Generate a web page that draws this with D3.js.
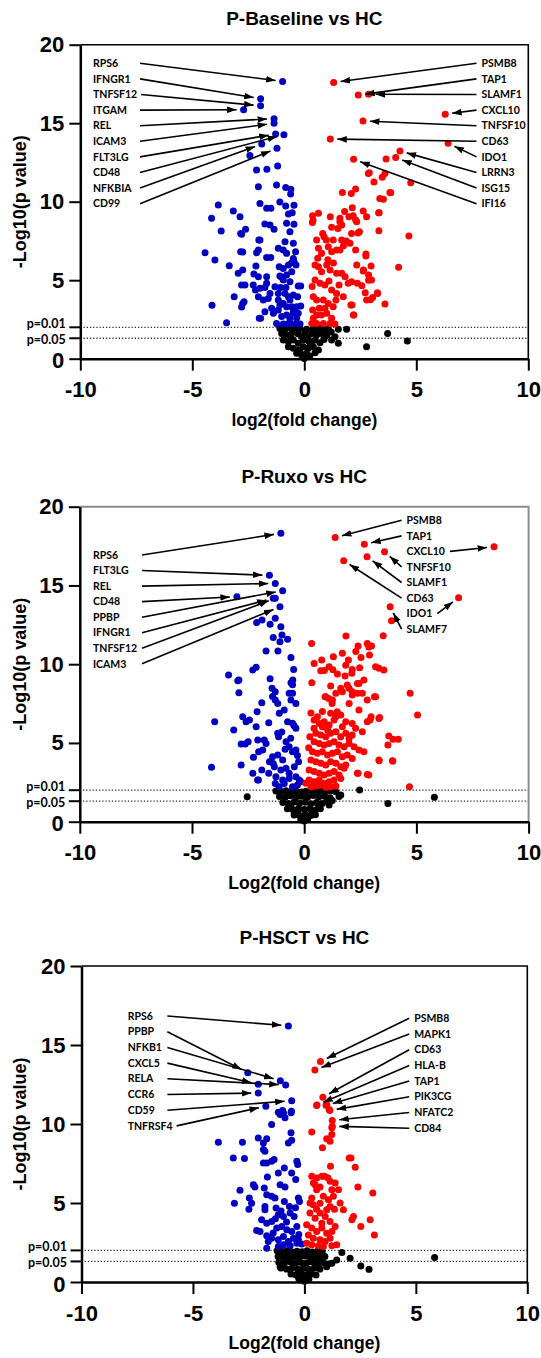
<!DOCTYPE html>
<html>
<head>
<meta charset="utf-8">
<script src="https://cdn.jsdelivr.net/npm/d3@7"></script>
<style>
  body { margin: 0; background: #fff; }
  svg { display: block; }
</style>
</head>
<body>
<script>
// ---------- Panel 1: P-Baseline vs HC (log2 FC, -log10 p) ----------
const P1_DOWN_GENES = [
  ["RPS6", -0.97, 17.66], ["IFNGR1", -1.95, 16.56], ["TNFSF12", -1.95, 16.11], ["ITGAM", -2.71, 15.86],
  ["REL", -1.35, 15.29], ["ICAM3", -1.35, 14.99], ["FLT3LG", -1.28, 14.31], ["CD48", -0.91, 14.27],
  ["NFKBIA", -1.90, 13.67], ["CD99", -1.22, 13.40]
];
const P1_UP_GENES = [
  ["PSMB8", 1.31, 17.60], ["TAP1", 2.41, 16.79], ["SLAMF1", 2.87, 16.84], ["CXCL10", 6.29, 15.57],
  ["TNFSF10", 2.62, 15.14], ["CD63", 1.16, 13.99], ["IDO1", 6.42, 13.72], ["LRRN3", 4.27, 13.23],
  ["ISG15", 4.08, 12.82], ["IFI16", 2.20, 12.70]
];
const P1_DOWN = [
  [-2.43,12.95],[-2.13,12.02],[-1.67,12.06],[-1.19,12.27],[-2.05,10.96],[-1.24,11.06],[-0.83,10.91],[-0.60,10.79],
  [-0.61,10.49],[-1.98,9.89],[-1.68,9.58],[-1.49,9.58],[-1.09,9.98],[-0.83,9.72],[-0.46,9.77],[-3.84,9.79],
  [-3.17,9.41],[-2.87,9.04],[-4.14,8.94],[-0.71,9.21],[-0.54,9.30],
  [-3.71,8.13],[-2.80,7.92],[-2.62,8.24],[-1.76,8.58],[-1.53,8.51],[-1.35,8.24],[-0.79,8.62],[-0.46,8.56],
  [-0.64,8.09],[-4.43,6.75],[-3.99,6.28],[-3.35,5.92],[-2.95,5.44],[-2.75,5.65],[-2.84,6.82],[-2.75,6.79],
  [-1.98,7.56],[-2.05,6.92],[-2.13,6.75],[-1.68,6.45],[-1.50,6.45],[-1.16,7.03],[-0.94,6.92],[-0.86,7.45],
  [-0.49,7.35],[-0.39,6.82],[-0.79,6.71],[-0.46,6.18],[-0.56,6.11],[-1.12,5.86],[-2.16,5.90],[-2.25,5.39],
  [-2.05,5.22],[-1.68,5.22],[-1.09,5.27],[-0.56,5.54],[-0.94,5.01],[-0.64,4.90],[-2.80,4.69],[-2.65,4.69],
  [-2.28,4.69],[-1.98,4.48],[-1.76,4.54],[-1.31,4.59],[-1.06,4.54],[-0.82,4.54],[-0.27,4.63],[-0.16,4.63],
  [-3.13,3.95],[-2.75,3.52],[-2.69,3.63],[-2.05,3.95],[-1.83,3.74],[-1.61,3.84],[-1.46,3.21],[-1.16,3.74],
  [-0.94,3.52],[-0.64,3.74],[-0.34,3.31],[-0.16,3.35],[-4.12,3.40],[-3.47,2.29],[-2.01,2.57],[-1.76,2.99],
  [-1.38,2.89],[-1.16,3.10],[-1.01,2.68],[-0.79,2.78],[-0.64,2.57],[-0.49,2.89],[-0.34,2.57],[-0.27,2.89],
  [-1.24,2.25],[-0.94,2.21],[-0.71,2.25],[-0.56,2.21],[-0.34,2.25],[-0.19,2.21],[-1.01,5.18],[-0.79,5.33],
  [-0.94,5.75],[-0.71,5.97],[-0.49,6.39],[-0.37,5.97],[-0.86,4.16],[-0.71,3.95],[-0.49,4.06],[-0.30,3.95],
  [-1.16,4.16],[-1.53,4.16],[-1.68,4.80],[-1.09,3.42],[-0.79,3.31],[-0.56,3.31],[-0.49,3.10],[-2.03,7.56],
  [-2.18,4.37],[-1.95,2.57],[-2.80,3.30],[-2.84,7.98]
];
const P1_UP = [
  [3.65,12.72],[2.86,11.80],[2.90,11.85],[3.48,11.55],[3.11,11.25],[3.60,11.80],[3.82,10.59],[1.70,10.59],
  [2.10,10.53],[2.29,10.81],[3.53,10.15],[3.32,9.30],[2.14,9.62],[0.37,9.11],[0.63,9.26],[1.16,9.04],
  [1.59,8.94],[1.99,9.04],[2.29,8.83],[2.78,9.04],[4.75,11.21],[3.86,10.57],
  [4.67,7.81],[4.21,5.82],[3.60,3.48],[3.26,4.20],[3.05,3.90],[2.95,3.75],[2.72,4.20],[2.98,5.90],
  [2.75,6.54],[2.87,5.33],[2.64,5.65],[2.87,5.00],[2.57,4.65],[2.37,4.80],[2.13,3.42],[2.21,2.78],
  [3.34,9.30],[3.37,10.20],
  [0.36,8.68],[1.22,8.37],[1.59,8.73],[1.67,8.51],[2.11,7.98],[2.34,8.73],[2.46,8.09],[3.33,8.15],
  [0.82,7.98],[0.88,7.77],[0.98,7.56],[0.55,7.56],[1.29,7.56],[1.67,7.56],[2.04,7.35],[2.29,6.92],
  [2.75,6.67],[2.63,5.58],[2.34,5.97],[2.11,4.90],[3.00,5.01],[3.27,4.16],[2.78,3.74],[2.08,3.42],
  [2.19,2.78],
  [0.63,7.03],[0.77,6.71],[1.07,7.13],[1.22,6.82],[1.44,6.92],[1.59,6.92],[0.48,5.97],[0.63,5.86],
  [0.77,5.54],[1.00,5.97],[1.15,5.65],[1.44,5.44],[1.67,5.44],[1.82,5.22],[1.96,4.80],[0.48,5.01],
  [0.70,4.80],[0.92,4.69],[1.22,4.37],[1.44,4.16],[1.74,3.95],[0.40,3.95],[0.55,3.74],[0.85,3.74],
  [1.07,3.52],[1.29,3.31],[0.37,3.10],[0.55,2.78],[0.77,2.78],[1.00,2.89],[1.22,2.57],[1.41,3.74],
  [0.33,2.25],[0.55,2.25],[0.85,2.25],[1.15,2.25],[1.37,2.21],[0.40,2.57],[0.67,3.21],[0.92,3.21],
  [1.80,9.38],[2.18,9.10],[2.63,9.40],[1.87,7.50],[2.40,8.00],[1.50,8.30],[1.75,7.20],[0.39,8.80],
  [1.05,6.30],[1.30,6.10],[0.60,6.40],[1.55,4.70],[1.10,4.95],[0.35,4.60]
];
const P1_NS = [
  [-1.09,1.93],[-0.86,1.93],[-0.64,1.97],[-0.42,1.93],[-0.19,1.93],[0.10,1.87],[0.40,1.93],[0.63,1.97],
  [0.85,1.93],[1.07,1.93],[-1.01,1.61],[-0.79,1.51],[-0.57,1.61],[-0.27,1.57],[0.03,1.72],[0.33,1.61],
  [0.55,1.51],[0.77,1.61],[1.00,1.51],[-0.94,1.19],[-0.71,1.08],[-0.49,1.19],[-0.27,0.98],[-0.04,1.19],
  [0.22,1.08],[0.48,1.19],[0.70,1.02],[0.88,1.23],[-0.71,0.76],[-0.49,0.66],[-0.27,0.55],[-0.04,0.76],
  [0.18,0.66],[0.40,0.76],[0.63,0.55],[-0.34,0.34],[-0.12,0.23],[0.00,0.02],[0.10,0.34],[0.25,0.17],
  [0.48,0.38],[-0.20,0.45],[0.30,0.90],[-0.60,1.40],[0.60,1.75],[-0.90,1.75],[1.20,1.70],[0.90,1.80],
  [-0.10,1.40],[0.15,1.35],
  [1.52,1.87],[1.89,1.87],[3.72,1.61],[2.78,0.76],[1.37,1.40],[1.52,0.98],[1.22,1.19],[4.60,1.13]
];

// ---------- Panel 2: P-Ruxo vs HC ----------
const P2_DOWN_GENES = [
  ["RPS6", -1.04, 18.31], ["FLT3LG", -1.55, 15.64], ["REL", -1.29, 15.13], ["CD48", -3.00, 14.29],
  ["PPBP", -0.96, 14.67], ["IFNGR1", -1.38, 14.18], ["TNFSF12", -1.29, 14.18], ["ICAM3", -1.08, 13.65]
];
const P2_UP_GENES = [
  ["PSMB8", 1.38, 18.05], ["TAP1", 2.68, 17.61], ["CXCL10", 8.46, 17.46], ["TNFSF10", 3.58, 17.14],
  ["SLAMF1", 2.80, 16.83], ["CD63", 1.76, 16.57], ["IDO1", 6.88, 14.22], ["SLAMF7", 3.83, 13.65]
];
const P2_DOWN = [
  [-2.12,12.64],[-1.88,12.81],[-1.52,12.53],[-1.29,12.91],[-1.04,12.38],[-1.38,11.70],[-0.99,11.85],[-1.08,11.43],
  [-0.74,11.58],[-1.70,10.84],[-1.17,10.84],[-0.59,10.43],[-0.47,9.67],[-3.37,9.31],[-2.91,9.00],[-2.96,8.95],
  [-2.29,9.63],[-2.14,9.80],[-1.52,9.08],[-1.43,8.47],[-1.29,8.25],[-0.59,8.83],[-0.52,8.70],[-0.52,8.15],
  [-2.91,8.19],[-0.51,9.00],
  [-3.99,6.35],[-4.13,3.45],[-3.14,5.82],[-2.81,4.93],[-2.81,3.60],[-2.50,5.08],[-2.74,6.67],[-2.59,6.35],
  [-2.44,6.46],[-2.14,6.03],[-2.10,6.98],[-1.89,7.56],[-1.58,6.29],[-2.07,5.19],[-1.78,5.19],[-1.70,4.97],
  [-2.03,4.44],[-1.85,4.55],[-2.26,4.09],[-2.29,3.07],[-2.04,2.65],[-1.89,3.28],[-1.58,3.07],[-1.41,7.95],
  [-1.29,7.72],[-1.18,7.51],[-1.11,6.88],[-0.89,7.09],[-0.59,7.72],[-0.37,7.51],[-0.67,8.15],[-0.74,6.35],
  [-0.52,6.25],[-0.37,5.93],[-1.18,5.61],[-1.14,5.40],[-0.81,5.08],[-0.67,4.76],[-0.52,4.44],[-0.37,4.55],
  [-0.25,3.81],[-1.41,4.12],[-1.18,4.23],[-0.96,3.92],[-1.33,3.49],[-1.04,3.28],[-0.81,3.39],[-0.67,3.07],
  [-0.44,3.49],[-1.26,2.86],[-0.96,2.65],[-0.67,2.75],[-0.37,2.86],[-0.22,2.65],[-1.29,2.43],[-1.11,2.22],
  [-0.89,2.43],[-0.52,2.22],[-0.30,2.33],[-0.15,2.54],[-1.38,3.70],[-1.55,3.81],[-2.63,4.93],[-2.08,2.65],
  [-0.45,6.10],[-0.60,5.30],[-0.30,4.20],[-0.85,4.60],[-1.00,5.70]
];
const P2_UP = [
  [3.89,12.76],[3.52,11.81],[1.86,11.79],[0.33,11.32],[2.40,11.15],[2.81,11.32],[3.00,11.15],[2.91,10.58],
  [2.53,10.43],[1.70,10.69],[1.30,10.48],[0.78,10.27],[0.44,10.05],[1.11,9.84],[0.74,9.59],[1.85,9.93],
  [2.14,9.67],[2.47,9.78],[1.82,9.25],[1.48,9.38],[1.92,8.68],[2.66,9.00],[2.37,8.78],[3.18,9.84],
  [3.33,9.74],[3.55,9.63],[0.34,8.83],[1.18,8.61],[1.63,8.47],[2.14,8.25],[2.59,8.15],[3.18,7.94],
  [0.96,7.94],[1.41,8.15],
  [4.72,8.15],[5.05,6.77],[3.77,5.44],[3.96,5.23],[4.19,5.23],[3.73,4.87],[3.34,3.87],[3.93,3.87],
  [4.69,2.22],[2.81,3.00],[2.40,3.07],[3.36,6.62],[2.93,6.45],[3.13,7.94],
  [2.00,8.47],[2.44,8.78],[1.26,7.72],[1.70,8.25],[2.14,8.04],[2.37,8.15],[2.00,7.50],[2.44,7.10],
  [2.81,7.72],[2.98,6.67],[3.33,6.56],[2.81,6.35],[3.33,3.92],[3.95,3.85],[2.88,2.97],[2.37,3.07],
  [1.63,2.75],
  [0.44,6.46],[0.67,6.24],[0.89,6.35],[1.11,6.14],[1.33,6.46],[0.81,6.03],[1.04,5.82],[0.52,5.61],
  [0.74,5.50],[0.96,5.40],[1.18,5.61],[1.41,5.71],[1.63,5.40],[1.85,5.61],[2.00,5.29],[2.14,5.50],
  [0.44,5.08],[0.67,4.97],[0.89,4.87],[1.11,4.97],[1.33,5.08],[1.55,4.87],[1.78,4.76],[2.00,4.97],
  [2.22,4.76],[2.44,4.55],[2.66,4.44],[0.37,4.44],[0.59,4.34],[0.81,4.44],[1.04,4.23],[1.26,4.34],
  [1.48,4.44],[1.70,4.13],[1.92,4.23],[2.14,4.02],[0.30,3.92],[0.52,3.81],[0.74,3.71],[0.96,3.60],
  [1.18,3.81],[1.41,3.71],[1.63,3.49],[1.85,3.60],[0.22,3.28],[0.44,3.18],[0.67,3.07],[0.89,2.97],
  [1.11,3.07],[1.33,3.18],[1.55,2.97],[1.78,3.39],[0.22,2.65],[0.44,2.54],[0.67,2.65],[0.89,2.44],
  [1.11,2.54],[1.33,2.65],[0.07,2.44],[0.30,2.22],[0.52,2.27],[0.74,2.33],[0.96,2.18],[1.18,2.22],
  [1.41,2.27],[0.81,6.99],[1.18,6.88],[1.41,6.67],[1.63,6.77],[1.85,6.35],[1.70,6.03],[0.59,6.67],
  [0.44,5.93],[2.14,6.24],[2.29,5.93],[2.59,5.71],
  [0.93,7.94],[1.09,7.83],[1.24,7.51],[1.47,6.98],[0.90,9.60],[1.28,9.65],[2.12,9.42],[2.30,10.80],
  [2.88,11.10],[1.97,10.27],[0.30,6.90],[0.25,5.40],[0.20,4.70]
];
const P2_NS = [
  [-1.26,1.95],[-1.04,1.92],[-0.81,1.97],[-0.59,1.90],[-0.37,1.96],[-0.12,1.88],[0.07,1.94],[0.30,1.97],
  [0.52,1.90],[0.74,1.95],[0.96,1.92],[1.18,1.96],[1.41,1.90],[-1.10,1.60],[-0.85,1.55],[-0.62,1.65],
  [-0.35,1.58],[-0.10,1.62],[0.15,1.55],[0.40,1.66],[0.65,1.58],[0.90,1.62],[1.15,1.52],[-0.95,1.22],
  [-0.70,1.15],[-0.45,1.25],[-0.20,1.18],[0.05,1.24],[0.30,1.14],[0.55,1.22],[0.80,1.16],[1.02,1.26],
  [-0.75,0.82],[-0.50,0.76],[-0.25,0.85],[0.00,0.78],[0.25,0.84],[0.50,0.75],[0.72,0.82],[-0.45,0.42],
  [-0.20,0.38],[0.05,0.45],[0.30,0.40],[0.50,0.44],[-0.15,0.12],[0.00,0.05],[0.15,0.14],[-0.30,0.60],
  [0.35,0.60],[-0.60,1.00],[0.65,1.00],
  [-2.54,1.59],[2.47,2.01],[3.73,1.16],[5.80,1.55],[1.11,1.06],[1.63,1.69],[1.55,1.60],[1.25,1.35]
];

// ---------- Panel 3: P-HSCT vs HC ----------
const P3_DOWN_GENES = [
  ["RPS6", -0.72, 16.21], ["PPBP", -2.54, 13.25], ["NFKB1", -1.08, 12.74], ["CXCL5", -2.07, 12.51],
  ["RELA", -0.84, 12.47], ["CCR6", -2.07, 11.96], ["CD59", -0.57, 11.47], ["TNFRSF4", -1.73, 11.13]
];
const P3_UP_GENES = [
  ["PSMB8", 0.72, 13.95], ["MAPK1", 0.47, 13.42], ["CD63", 0.83, 11.70], ["HLA-B", 0.56, 11.20],
  ["TAP1", 0.97, 11.18], ["PIK3CG", 1.14, 10.85], ["NFATC2", 1.25, 10.22], ["CD84", 1.25, 9.86]
];
const P3_DOWN = [
  [-1.17,10.75],[-0.98,10.85],[-0.58,10.80],[-1.09,10.60],[-0.94,10.71],[-0.87,10.39],[-0.60,10.71],[-1.47,9.97],
  [-0.60,9.44],[-0.72,8.80],[-0.57,8.97],[-3.86,8.85],[-2.78,8.85],[-2.07,9.12],[-1.84,8.80],[-1.69,9.06],
  [-1.77,8.28],[-1.84,8.38],[-3.19,7.85],[-2.69,7.81],[-1.84,7.53],[-1.69,7.53],[-1.47,7.64],[-1.36,7.75],
  [-0.34,7.64],[-0.30,7.43],[-0.90,7.22],[-1.17,6.90],[-0.57,6.90],[-0.39,6.48],[-1.66,6.65],[-2.29,6.16],
  [-2.22,6.01],[-2.89,5.80],[-1.80,5.95],[-1.09,6.16],[-0.87,6.01],[-3.14,4.99],[-2.47,5.31],[-2.37,4.99],
  [-2.49,4.61],[-1.69,5.52],[-1.47,5.42],[-1.32,5.31],[-1.77,4.78],[-1.77,4.57],[-1.27,4.68],[-0.90,5.10],
  [-0.67,4.78],[-0.27,5.31],[-0.22,5.10],[-1.17,4.25],[-0.94,4.15],[-0.64,4.36],[-0.46,4.15],[-1.92,3.94],
  [-1.69,3.72],[-1.47,3.83],[-2.14,3.26],[-1.99,3.20],[-1.24,3.41],[-1.02,3.51],[-0.79,3.30],[-0.57,3.20],
  [-0.34,3.51],[-1.69,2.92],[-1.47,2.77],[-1.17,2.67],[-0.94,2.88],[-0.72,2.56],[-0.49,2.77],[-0.27,2.67],
  [-1.69,2.14],[-1.17,2.24],[-0.94,2.35],[-0.64,2.29],[-0.34,2.46],[-0.12,2.41],[-1.62,2.56],[-1.30,4.00],
  [-1.05,4.50],[-0.40,4.70],[-0.80,3.80],[-0.25,3.00],[-1.40,3.10]
];
const P3_UP = [
  [1.23,9.33],[1.00,9.06],[0.33,9.50],[1.15,8.91],[0.81,8.49],[2.01,7.85],[2.09,7.85],[2.28,7.26],
  [1.17,7.32],[0.33,6.69],[0.55,6.58],[0.78,6.69],[0.48,6.16],[0.70,6.01],[1.15,6.37],[1.38,6.26],
  [1.53,5.84],[1.23,5.84],[2.40,6.01],[3.07,5.63],[0.33,5.31],[0.40,4.89],[0.85,5.42],[1.08,5.21],
  [1.15,4.78],[1.60,5.00],[1.75,4.57],[2.13,3.94],[2.20,4.15],[2.53,3.51],[2.95,3.94],[3.14,2.98],
  [0.25,4.36],[0.48,4.04],[0.70,4.36],[0.93,4.15],[1.15,3.83],[1.38,3.51],[0.10,3.62],[0.33,3.41],
  [0.55,3.20],[0.78,3.41],[1.00,3.09],[1.23,3.20],[0.18,2.98],[0.40,2.77],[0.70,2.67],[0.93,2.56],
  [1.15,2.77],[0.10,2.46],[0.33,2.35],[0.63,2.29],[0.85,2.24],[1.23,2.29],[1.45,2.35],[0.78,3.72],
  [1.00,4.57],[1.30,5.42],[0.55,5.84],[0.40,6.26],[0.70,4.99],[1.35,4.60],[1.05,6.60],[0.90,6.70],
  [0.25,5.00],[0.55,4.60],[0.55,11.17],[1.00,11.24],[1.11,10.92],[1.23,9.76]
];
const P3_NS = [
  [-1.22,1.98],[-1.00,1.93],[-0.78,1.97],[-0.55,1.90],[-0.33,1.95],[-0.10,1.92],[0.12,1.97],[0.35,1.90],
  [0.58,1.95],[0.80,1.92],[-1.18,1.62],[-0.95,1.58],[-0.72,1.66],[-0.48,1.60],[-0.25,1.55],[0.02,1.64],
  [0.25,1.58],[0.48,1.66],[0.70,1.55],[0.92,1.62],[-1.15,1.25],[-0.90,1.20],[-0.65,1.28],[-0.40,1.18],
  [-0.15,1.24],[0.10,1.20],[0.35,1.26],[0.60,1.18],[0.85,1.22],[-1.05,0.88],[-0.80,0.82],[-0.55,0.90],
  [-0.30,0.80],[-0.05,0.86],[0.20,0.80],[0.45,0.88],[0.70,0.82],[-0.60,0.50],[-0.38,0.45],[-0.15,0.52],
  [0.10,0.46],[0.32,0.50],[0.52,0.44],[-0.25,0.20],[0.00,0.05],[0.20,0.18],[-0.10,0.30],[-0.85,1.45],
  [0.55,1.40],[-0.20,1.75],[0.30,1.78],
  [1.68,1.86],[2.05,1.50],[2.53,1.02],[2.90,0.80],[5.84,1.55],[1.45,1.40],[1.23,1.19],[1.00,0.97],
  [-1.09,0.97],[1.06,1.14]
];

// Axis ticks and significance thresholds
const X_TICKS = [-10, -5, 0, 5, 10];
const Y_TICKS = [0, 5, 10, 15, 20];
const THRESHOLDS = [
  { label: "p=0.01", value: 2 },
  { label: "p=0.05", value: -Math.log10(0.05) }
];

// ---------- Layout ----------
const W = 541, H = 1358;
const BLUE = "#0000c0", RED = "#ff0000", BLACK = "#000000";
const R = 3.5;

const panels = [
  { title: "P-Baseline vs HC", xTitle: "log2(fold change)",
    ns: P1_NS, down: P1_DOWN, up: P1_UP, downGenes: P1_DOWN_GENES, upGenes: P1_UP_GENES,
    xr: [80.3, 528.3], yr: [358.7, 44.7], frame: "#000", titleY: 25,
    leftX: 93, leftCol: 140, leftY0: 63.3, rightX: 481.5, rightY0: 63.3, step: 15.6 },
  { title: "P-Ruxo vs HC", xTitle: "Log2(fold change)",
    ns: P2_NS, down: P2_DOWN, up: P2_UP, downGenes: P2_DOWN_GENES, upGenes: P2_UP_GENES,
    xr: [79.8, 528.6], yr: [821.7, 506.7], frame: "#8c8c8c", titleY: 483.3,
    leftX: 93, leftCol: 142, leftY0: 555, rightX: 406.6, rightY0: 520.3, step: 15.55 },
  { title: "P-HSCT vs HC", xTitle: "Log2(fold change)",
    ns: P3_NS, down: P3_DOWN, up: P3_UP, downGenes: P3_DOWN_GENES, upGenes: P3_UP_GENES,
    xr: [81.5, 527.3], yr: [1282, 966], frame: "#000", titleY: 944,
    leftX: 127.7, leftCol: 167.4, leftY0: 1016, rightX: 414.2, rightY0: 1018.3, step: 15.7 }
];

const AXIS_FONT = "'Liberation Sans', Arial, sans-serif";
const LABEL_FONT = "Lato, 'Open Sans', sans-serif";

const svg = d3.select("body").append("svg")
  .attr("width", W).attr("height", H)
  .attr("viewBox", `0 0 ${W} ${H}`);

svg.append("defs").append("marker")
  .attr("id", "arrowhead")
  .attr("viewBox", "0 0 10 7")
  .attr("refX", 10).attr("refY", 3.5)
  .attr("markerWidth", 9.5).attr("markerHeight", 7)
  .attr("markerUnits", "userSpaceOnUse")
  .attr("orient", "auto")
  .append("path").attr("d", "M0,0 L10,3.5 L0,7 Z").attr("fill", "#000");

panels.forEach(p => drawPanel(p));

function drawPanel(p) {
  const x = d3.scaleLinear().domain([-10, 10]).range(p.xr);
  const y = d3.scaleLinear().domain([0, 20]).range(p.yr);
  const g = svg.append("g");

  // significance guide lines
  g.selectAll("line.thr").data(THRESHOLDS).join("line")
    .attr("x1", p.xr[0]).attr("x2", p.xr[1])
    .attr("y1", d => y(d.value)).attr("y2", d => y(d.value))
    .attr("stroke", "#333").attr("stroke-width", 1.3)
    .attr("stroke-dasharray", "1.3,1.9");

  // frame (top and right)
  g.append("path")
    .attr("d", `M${p.xr[0]},${p.yr[1]} H${p.xr[1]} V${p.yr[0]}`)
    .attr("fill", "none").attr("stroke", p.frame).attr("stroke-width", p.frame === "#000" ? 1.6 : 2);

  // points: not significant, down, up
  const dot = (sel, data, color) => sel.selectAll(null).data(data).join("circle")
    .attr("cx", d => x(d[0])).attr("cy", d => y(d[1])).attr("r", R).attr("fill", color);
  dot(g, p.ns, BLACK);
  dot(g, p.down, BLUE);
  dot(g, p.up, RED);
  dot(g, p.downGenes.map(d => [d[1], d[2]]), BLUE);
  dot(g, p.upGenes.map(d => [d[1], d[2]]), RED);

  // axes
  const yAxis = g.append("g").attr("transform", `translate(${p.xr[0]},0)`)
    .call(d3.axisLeft(y).tickValues(Y_TICKS).tickFormat(d => String(d))
      .tickSize(11).tickSizeOuter(0).tickPadding(5));
  const xAxis = g.append("g").attr("transform", `translate(0,${p.yr[0]})`)
    .call(d3.axisBottom(x).tickValues(X_TICKS).tickFormat(d => String(d))
      .tickSize(12).tickSizeOuter(0).tickPadding(11));
  [yAxis, xAxis].forEach(a => {
    a.select(".domain").attr("stroke", "#000").attr("stroke-width", 2.5);
    a.selectAll(".tick line").attr("stroke", "#000").attr("stroke-width", 2);
    a.selectAll(".tick text").attr("fill", "#000")
      .style("font-family", AXIS_FONT).style("font-weight", "bold").style("font-size", "22px");
  });
  // the zero label sits a touch lower so it clears the p=0.05 label
  yAxis.selectAll(".tick text").filter(d => d === 0).attr("dy", "0.42em");

  // threshold ticks and labels on the y axis
  THRESHOLDS.forEach((t, i) => {
    g.append("line")
      .attr("x1", p.xr[0] - 11).attr("x2", p.xr[0])
      .attr("y1", y(t.value)).attr("y2", y(t.value))
      .attr("stroke", "#000").attr("stroke-width", 2);
    g.append("text")
      .attr("x", p.xr[0] - 14.5)
      .attr("y", y(t.value) + (i === 0 ? -4 : 1.5))
      .attr("dy", "0.35em")
      .attr("text-anchor", "end")
      .style("font-family", LABEL_FONT).style("font-weight", "bold").style("font-size", "12.5px")
      .text(t.label);
  });

  // titles
  g.append("text")
    .attr("x", x(0)).attr("y", p.titleY).attr("text-anchor", "middle")
    .style("font-family", AXIS_FONT).style("font-weight", "bold").style("font-size", "19px")
    .text(p.title);
  g.append("text")
    .attr("x", x(0)).attr("y", p.yr[0] + 67).attr("text-anchor", "middle")
    .style("font-family", AXIS_FONT).style("font-weight", "bold").style("font-size", "17.5px")
    .text(p.xTitle);
  g.append("text")
    .attr("transform", `translate(25.5,${(p.yr[0] + p.yr[1]) / 2}) rotate(-90)`)
    .attr("text-anchor", "middle")
    .style("font-family", AXIS_FONT).style("font-weight", "bold").style("font-size", "18px")
    .text("-Log10(p value)");

  // gene annotations with arrows
  const GAP = 7;
  function arrow(x1, y1, tx, ty) {
    const dx = tx - x1, dy = ty - y1, len = Math.hypot(dx, dy);
    const ex = tx - dx / len * GAP, ey = ty - dy / len * GAP;
    g.append("line")
      .attr("x1", x1).attr("y1", y1).attr("x2", ex).attr("y2", ey)
      .attr("stroke", "#000").attr("stroke-width", 1.6)
      .attr("marker-end", "url(#arrowhead)");
  }
  const labelStyle = s => s.style("font-family", LABEL_FONT).style("font-weight", "bold")
    .style("font-size", "10.5px").attr("fill", "#000");

  p.downGenes.forEach((d, i) => {
    const ly = p.leftY0 + i * p.step;
    const t = g.append("text").attr("x", p.leftX).attr("y", ly).attr("dy", "0.35em")
      .call(labelStyle).text(d[0]);
    const end = p.leftX + t.node().getComputedTextLength();
    arrow(Math.max(p.leftCol, end + 4), ly, x(d[1]), y(d[2]));
  });
  p.upGenes.forEach((d, i) => {
    const ly = p.rightY0 + i * p.step;
    const t = g.append("text").attr("x", p.rightX).attr("y", ly).attr("dy", "0.35em")
      .call(labelStyle).text(d[0]);
    const end = p.rightX + t.node().getComputedTextLength();
    const tx = x(d[1]), ty = y(d[2]);
    const sx = tx > end ? end + 5 : p.rightX - 5;
    arrow(sx, ly, tx, ty);
  });
}
</script>
</body>
</html>
